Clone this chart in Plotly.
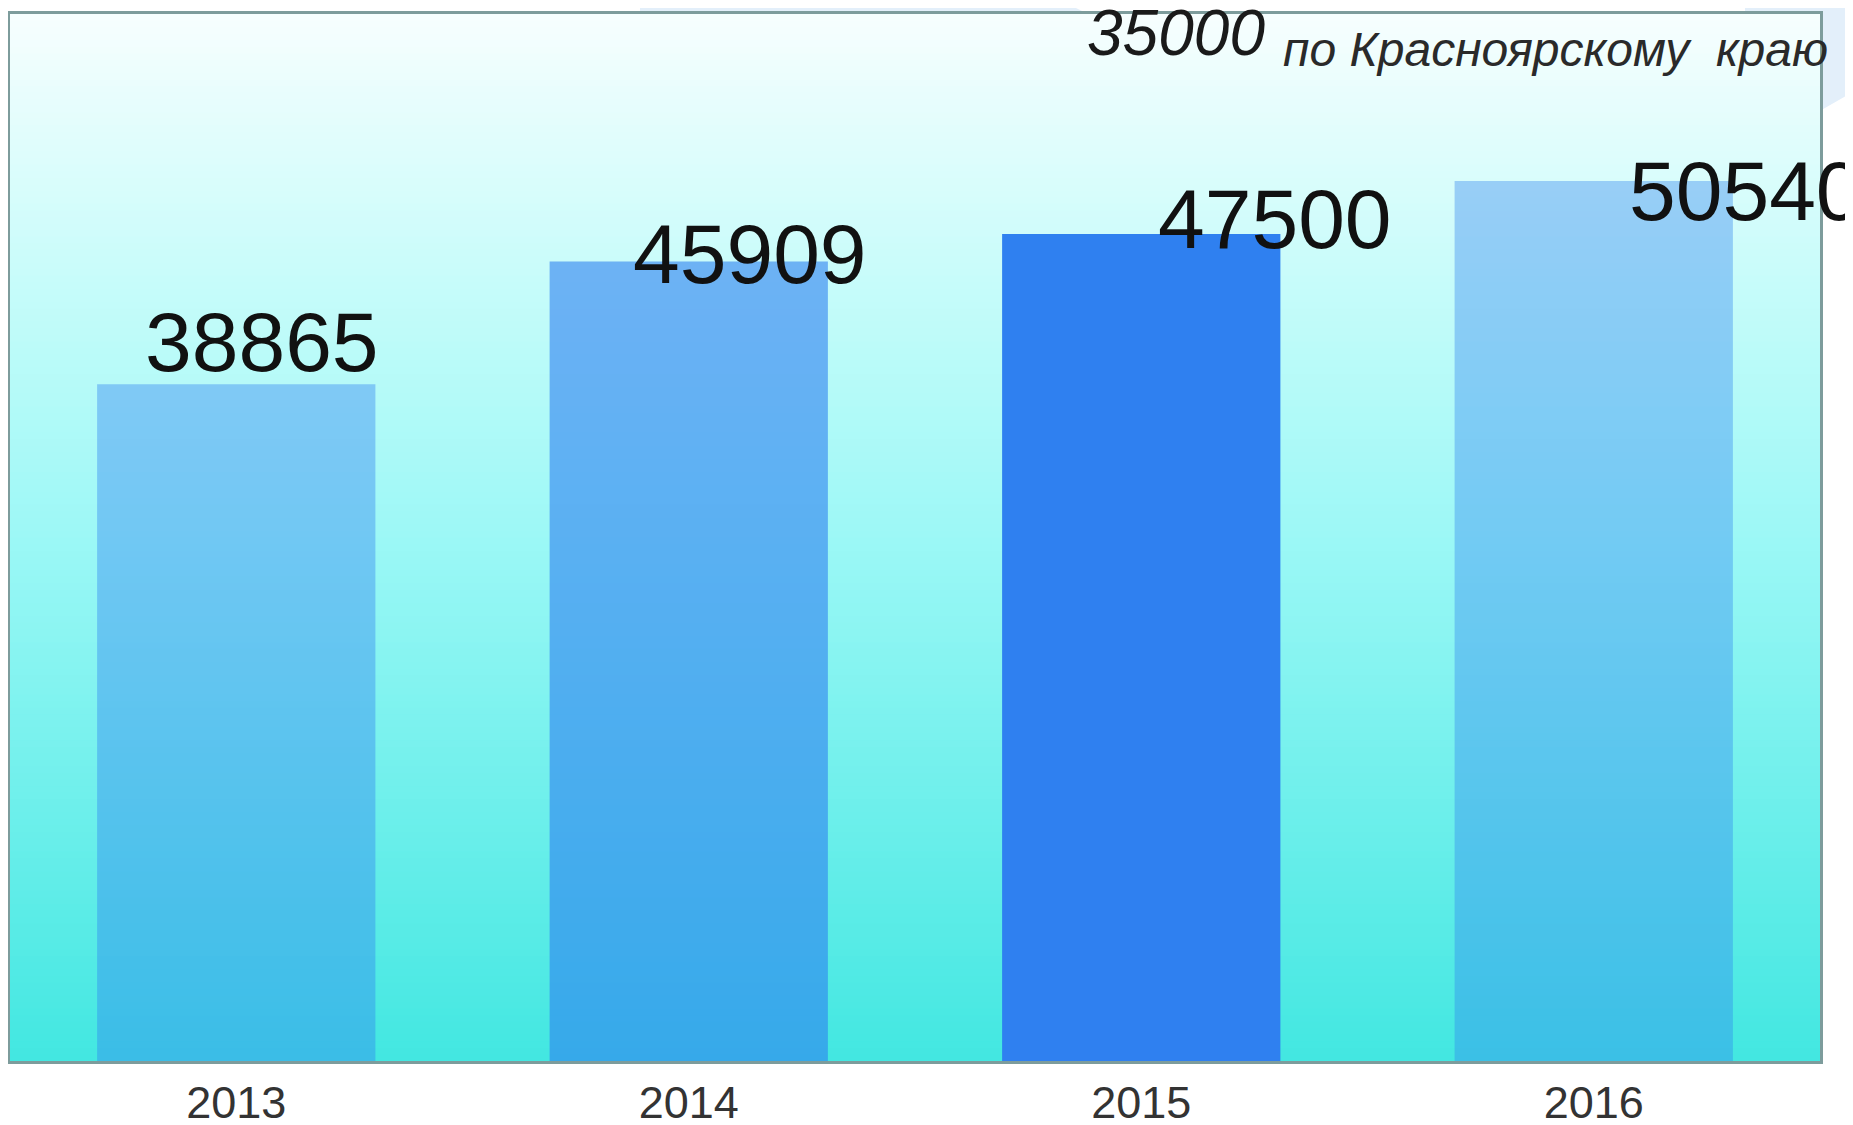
import plotly.graph_objects as go

# ---- data ----
years = ["2013", "2014", "2015", "2016"]
values = [38865, 45909, 47500, 50540]
header_value = "35000"
header_text = "по Красноярскому \u00a0краю"

# ---- styles ----
OFF = 8                      # default page body margin
W, H = 1853 - OFF, 1125 - OFF
# frame edges in page pixels: left 10, top 14, right 1820, bottom 1061
L, T = 10 - OFF, 14 - OFF
R = W - (1820 - OFF)
B = H - (1061 - OFF)
bar_rgb = (47, 128, 240)
bar_alpha = [0.40, 0.60, 1.0, 0.38]
label_dx = [26, 61, 134, 152]
label_dy = [42, 8, 15, -10]
FONT = "Liberation Sans, Arial, sans-serif"

bar_colors = [f"rgba({bar_rgb[0]},{bar_rgb[1]},{bar_rgb[2]},{a})" for a in bar_alpha]

fig = go.Figure()
fig.add_trace(go.Bar(
    x=years, y=values,
    marker=dict(color=bar_colors, line=dict(width=0)),
    hoverinfo="skip",
))

# gradient background of plot area via thin strips
stops = [(0.0, (247, 254, 254)), (0.25, (200, 252, 250)), (0.5, (156, 248, 246)), (1.0, (66, 231, 225))]

def grad(t):
    for (t0, c0), (t1, c1) in zip(stops[:-1], stops[1:]):
        if t <= t1:
            f = (t - t0) / (t1 - t0)
            return tuple(int(round(c0[i] + (c1[i] - c0[i]) * f)) for i in range(3))
    return stops[-1][1]

PW = W - L - R
PH = H - T - B

def px(xp, yp):
    # page pixel -> paper fraction
    return ((xp - OFF - L) / PW, 1 - (yp - OFF - T) / PH)

shapes = []
deco = "#e3effa"
polyA = [(640, 0), (1060, 0), (1120, 30), (640, 30)]
polyB = [(1745, 0), (1853, 0), (1853, 92), (1818, 112), (1818, 30), (1745, 30)]
for poly in (polyA, polyB):
    pts = [px(a, b) for a, b in poly]
    path = "M " + " L ".join(f"{a:.5f},{b:.5f}" for a, b in pts) + " Z"
    shapes.append(dict(type="path", path=path, xref="paper", yref="paper",
                       fillcolor=deco, line=dict(width=0), layer="below"))

N = 160
for i in range(N):
    t = (i + 0.5) / N
    c = grad(t)
    y1 = 1 - i / N
    y0 = 1 - (i + 1) / N - 0.002
    shapes.append(dict(type="rect", xref="paper", yref="paper",
                       x0=0, x1=1, y0=max(y0, 0), y1=y1,
                       fillcolor=f"rgb({c[0]},{c[1]},{c[2]})",
                       line=dict(width=0), layer="below"))

annotations = []
for i, (v, dx, dy) in enumerate(zip(values, label_dx, label_dy)):
    annotations.append(dict(x=i, y=v, xref="x", yref="y", text=str(v),
                            showarrow=False, xanchor="center", yanchor="middle",
                            xshift=dx, yshift=dy,
                            font=dict(family=FONT, size=84, color="#111111")))

hx, hy = px(1176, 33)
annotations.append(dict(x=hx, y=hy, xref="paper", yref="paper", text=f"<i>{header_value}</i>",
                        showarrow=False, xanchor="center", yanchor="middle",
                        font=dict(family=FONT, size=64, color="#1a1a1a")))
rx, ry = px(1281, 49)
annotations.append(dict(x=rx, y=ry, xref="paper", yref="paper", text=f"<i>{header_text}</i>",
                        showarrow=False, xanchor="left", yanchor="middle",
                        font=dict(family=FONT, size=48, color="#2a2a2a")))

fig.update_layout(
    width=W, height=H,
    margin=dict(l=L, r=R, t=T, b=B, pad=0, autoexpand=False),
    paper_bgcolor="white",
    plot_bgcolor="rgba(0,0,0,0)",
    bargap=0.385,
    showlegend=False,
    shapes=shapes,
    annotations=annotations,
    xaxis=dict(type="category", range=[-0.5, 3.5], showgrid=False, zeroline=False,
               showline=True, mirror=True,
               linecolor="#7d9c9c", linewidth=3, ticks="", automargin=False,
               tickfont=dict(family=FONT, size=45, color="#333333"),
               ticklabelstandoff=0, fixedrange=True),
    yaxis=dict(range=[0, 60130], showgrid=False, zeroline=False, showline=True,
               mirror=True, linecolor="#7d9c9c", linewidth=3, automargin=False,
               showticklabels=False, ticks="", fixedrange=True),
)

fig.write_html("out.html")
